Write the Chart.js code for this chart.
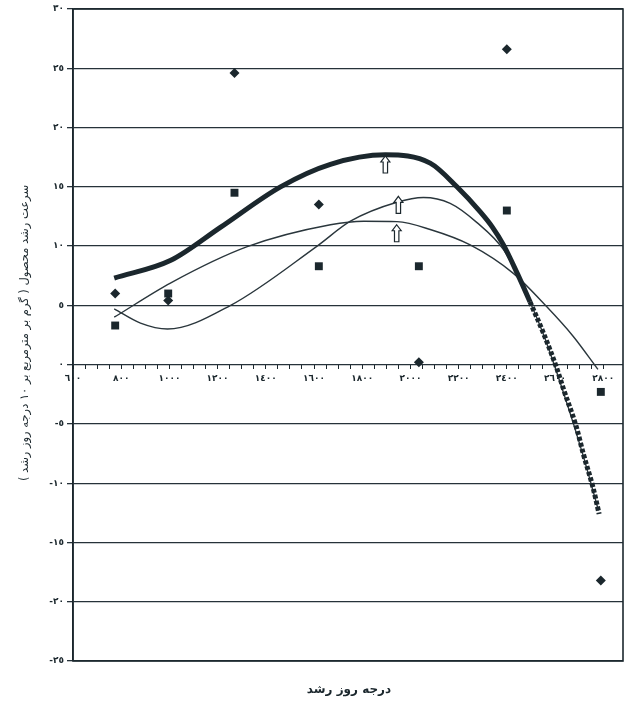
<!DOCTYPE html>
<html>
<head>
<meta charset="utf-8">
<script src="https://cdn.jsdelivr.net/npm/chart.js@4/dist/chart.umd.min.js"></script>
<style>
  html, body { margin: 0; background: #fff; }
  #wrap { width: 629px; height: 705px; }
</style>
</head>
<body>
<div id="wrap"><canvas id="myChart"></canvas></div>
<script>
// growing degree days of the sampling dates
const gdd = [775, 995, 1270, 1620, 2035, 2400, 2790];
const diamondValues = [6.0, 5.4, 24.6, 13.5, 0.2, 26.6, -18.2];
const squareValues = [3.3, 6.0, 14.5, 8.3, 8.3, 13.0, -2.3];

// fitted curves
const thickX = [771, 1006, 1213, 1461, 1668, 1896, 2082, 2193, 2289, 2340, 2386, 2441, 2496, 2551, 2607, 2634, 2689, 2717, 2758, 2783];
const thickY = [7.3, 8.8, 11.6, 15.0, 16.9, 17.7, 17.0, 15.0, 12.9, 11.6, 10.1, 7.8, 5.3, 2.7, -0.3, -2.0, -5.3, -7.5, -10.4, -12.6];
const curveAX = [771, 880, 992, 1254, 1613, 1751, 1944, 2054, 2165, 2275, 2386, 2455, 2551, 2634, 2717, 2780];
const curveAY = [4.7, 3.5, 3.0, 5.0, 10.0, 12.1, 13.7, 14.1, 13.6, 12.0, 9.7, 7.1, 2.6, -2.3, -7.7, -12.3];
const curveBX = [771, 1006, 1323, 1668, 1806, 1944, 2082, 2248, 2427, 2565, 2675, 2778];
const curveBY = [4.0, 6.9, 9.95, 11.8, 12.1, 12.06, 11.4, 10.1, 7.7, 4.9, 2.4, -0.4];

// peak markers (arrow tips)
const arrowX = [1896, 1950, 1943];
const arrowY = [17.6, 14.2, 11.8];

const yTitle = "سرعت رشد محصول ( گرم بر مترمربع بر ١٠ درجه روز رشد )";
const xTitle = "درجه روز رشد";

const ink = "#1b272d";
const toArabic = (v) => String(v).replace(/\d/g, (d) => "٠١٢٣٤٥٦٧٨٩"[d]);
const pts = (xs, ys) => xs.map((x, i) => ({ x: x, y: ys[i] }));

function drawArrow(ctx, px, py) {
  const h = 17, hw = 4.5, sw = 2.2, hh = 6;
  ctx.beginPath();
  ctx.moveTo(px, py);
  ctx.lineTo(px + hw, py + hh);
  ctx.lineTo(px + sw, py + hh);
  ctx.lineTo(px + sw, py + h);
  ctx.lineTo(px - sw, py + h);
  ctx.lineTo(px - sw, py + hh);
  ctx.lineTo(px - hw, py + hh);
  ctx.closePath();
  ctx.fillStyle = "#fff";
  ctx.fill();
  ctx.lineWidth = 1.2;
  ctx.strokeStyle = ink;
  ctx.stroke();
}

const extras = {
  id: "extras",
  afterDatasetsDraw(chart) {
    const { ctx, chartArea: a, scales } = chart;
    ctx.save();
    arrowX.forEach((v, i) => {
      drawArrow(ctx, scales.x.getPixelForValue(v), scales.y.getPixelForValue(arrowY[i]));
    });
    ctx.lineWidth = 1.6;
    ctx.strokeStyle = ink;
    ctx.strokeRect(a.left, a.top, a.right - a.left, a.bottom - a.top);

    ctx.fillStyle = ink;
    ctx.direction = "rtl";
    ctx.textAlign = "center";
    ctx.textBaseline = "middle";
    ctx.font = 'bold 12px "DejaVu Sans"';
    ctx.fillText(xTitle, 349, 690);
    ctx.font = '11.5px "DejaVu Sans"';
    ctx.translate(25, 333);
    ctx.rotate(-Math.PI / 2);
    ctx.fillText(yTitle, 0, 0);
    ctx.restore();
  },
};

const ctx = document.getElementById("myChart").getContext("2d");
const myChart = new Chart(ctx, {
  type: "scatter",
  data: {
    datasets: [
      {
        label: "diamond",
        data: pts(gdd, diamondValues),
        pointStyle: "rectRot",
        pointRadius: 5,
        backgroundColor: ink,
        borderColor: ink,
        borderWidth: 0,
      },
      {
        label: "square",
        data: pts(gdd, squareValues),
        pointStyle: "rect",
        pointRadius: 5.6,
        backgroundColor: ink,
        borderColor: ink,
        borderWidth: 0,
      },
      {
        label: "fit 1",
        data: pts(thickX, thickY),
        showLine: true,
        pointRadius: 0,
        borderColor: ink,
        borderWidth: 5,
        cubicInterpolationMode: "monotone",
        borderCapStyle: "butt",
        segment: {
          borderDash: (c) => (c.p0.parsed.x >= 2480 ? [4, 2] : undefined),
        },
      },
      {
        label: "fit 2",
        data: pts(curveAX, curveAY),
        showLine: true,
        pointRadius: 0,
        borderColor: "#2a363c",
        borderWidth: 1.4,
        cubicInterpolationMode: "monotone",
      },
      {
        label: "fit 3",
        data: pts(curveBX, curveBY),
        showLine: true,
        pointRadius: 0,
        borderColor: "#2a363c",
        borderWidth: 1.4,
        cubicInterpolationMode: "monotone",
      },
    ],
  },
  options: {
    responsive: true,
    maintainAspectRatio: false,
    animation: false,
    events: [],
    layout: { padding: { left: 0, top: 9, right: 6, bottom: 44 } },
    plugins: { legend: { display: false }, tooltip: { enabled: false } },
    scales: {
      x: {
        type: "linear",
        position: { y: 0 },
        min: 600,
        max: 2882,
        afterBuildTicks: (s) => {
          s.ticks = s.ticks.filter((t) => t.value % 50 === 0);
        },
        ticks: {
          stepSize: 50,
          autoSkip: false,
          maxRotation: 0,
          padding: 5,
          color: ink,
          font: { family: "DejaVu Sans", size: 9, weight: "bold" },
          callback: (v) => (v % 200 === 0 ? toArabic(v) : ""),
        },
        grid: { drawOnChartArea: false, tickLength: 4, color: ink, lineWidth: 1 },
        border: { display: false },
      },
      y: {
        min: -25,
        max: 30,
        afterFit: (s) => {
          s.width = 73;
        },
        ticks: {
          stepSize: 5,
          padding: 3,
          color: ink,
          font: { family: "DejaVu Sans", size: 9, weight: "bold" },
          callback: (v) => toArabic(v),
        },
        grid: { color: "#26323a", lineWidth: 1.3, tickLength: 6 },
        border: { color: ink, width: 1.6 },
      },
    },
  },
  plugins: [extras],
});
</script>
</body>
</html>
